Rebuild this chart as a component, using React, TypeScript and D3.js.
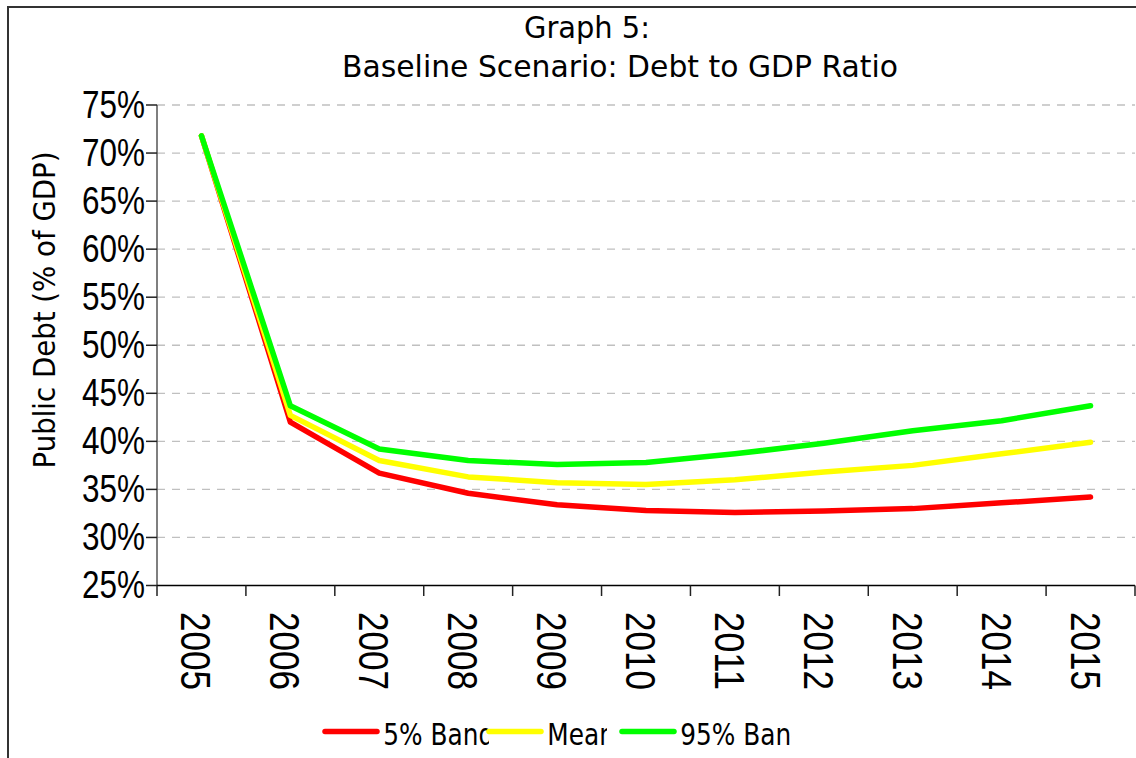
import React from "react";
import * as d3 from "d3";

// Debt-to-GDP projections (percent of GDP) by year
const years = ["2005", "2006", "2007", "2008", "2009", "2010", "2011", "2012", "2013", "2014", "2015"];
const band5 = [71.8, 42.0, 36.7, 34.6, 33.4, 32.8, 32.6, 32.75, 33.0, 33.6, 34.2];
const meanPath = [71.8, 42.7, 38.0, 36.3, 35.7, 35.5, 36.0, 36.8, 37.5, 38.7, 39.9];
const band95 = [71.8, 43.7, 39.2, 38.0, 37.6, 37.8, 38.7, 39.8, 41.1, 42.15, 43.7];

const seriesNames = ["5% Band", "Mean", "95% Band"];
const seriesColors = ["#ff0000", "#ffff00", "#00ff00"];
const yTicks = [25, 30, 35, 40, 45, 50, 55, 60, 65, 70, 75];

const W = 1136;
const H = 758;
const plot = { left: 157, right: 1135, top: 105, bottom: 585.5 };

export default function App() {
  const x = d3.scaleBand<string>().domain(years).range([plot.left, plot.right]).padding(0);
  const y = d3.scaleLinear().domain([25, 75]).range([plot.bottom, plot.top]);
  const cx = (yr: string) => (x(yr) as number) + x.bandwidth() / 2;

  const line = d3
    .line<number>()
    .x((_, i) => cx(years[i]))
    .y((v) => y(v));

  const allSeries = [band5, meanPath, band95];
  const boundaries = years.map((yr) => x(yr) as number).concat([plot.right]);

  // legend layout: entries are squeezed, so their labels get cut off
  const legendY = 731.5;
  const legendLineStart = [325, 489, 622];
  const legendClipEnd = [489, 607, 792];

  const sansFont = "'DejaVu Sans', Verdana, sans-serif";
  const narrowFont = "'Liberation Sans Narrow', 'Arial Narrow', 'Liberation Sans', Arial, sans-serif";

  return (
    <svg
      width={W}
      height={H}
      viewBox={`0 0 ${W} ${H}`}
      style={{ position: "absolute", left: 0, top: 0, display: "block", background: "#fff" }}
    >
      <defs>
        {legendClipEnd.map((end, i) => (
          <clipPath id={`legclip${i}`} key={i}>
            <rect x={legendLineStart[i] + 55} y={700} width={end - (legendLineStart[i] + 55)} height={58} />
          </clipPath>
        ))}
      </defs>

      {/* chart frame */}
      <rect x={8} y={7} width={1160} height={790} fill="#fff" stroke="#333" strokeWidth={2} />

      {/* title */}
      <g fontFamily={sansFont} fill="#000" fontSize={30.5} textAnchor="middle">
        <text x={587} y={38} textLength={126} lengthAdjust="spacingAndGlyphs">
          Graph 5:
        </text>
        <text x={620} y={77} textLength={556} lengthAdjust="spacingAndGlyphs">
          Baseline Scenario: Debt to GDP Ratio
        </text>
      </g>

      {/* horizontal gridlines */}
      {yTicks
        .filter((t) => t > 25)
        .map((t) => (
          <line
            key={`g${t}`}
            x1={plot.left}
            x2={plot.right}
            y1={y(t)}
            y2={y(t)}
            stroke="#c0c0c0"
            strokeWidth={1.3}
            strokeDasharray="8,7"
          />
        ))}

      {/* y axis */}
      <line x1={plot.left} x2={plot.left} y1={plot.top} y2={plot.bottom} stroke="#555" strokeWidth={1.5} />
      {yTicks.map((t) => (
        <g key={`yt${t}`}>
          <line x1={plot.left - 11} x2={plot.left} y1={y(t)} y2={y(t)} stroke="#222" strokeWidth={1.5} />
          <text
            x={145}
            y={y(t) + 12.5}
            textAnchor="end"
            fontFamily={narrowFont}
            fontSize={38}
            textLength={63}
            lengthAdjust="spacingAndGlyphs"
            fill="#000"
          >
            {`${t}%`}
          </text>
        </g>
      ))}

      {/* x axis */}
      <line x1={plot.left} x2={plot.right} y1={plot.bottom} y2={plot.bottom} stroke="#000" strokeWidth={1.5} />
      {boundaries.map((bx, i) => (
        <line key={`xt${i}`} x1={bx} x2={bx} y1={plot.bottom} y2={plot.bottom + 10.5} stroke="#222" strokeWidth={1.5} />
      ))}
      {years.map((yr) => (
        <text
          key={`xl${yr}`}
          transform={`translate(${cx(yr) - 5.5},612) rotate(90)`}
          textAnchor="start"
          dominantBaseline="central"
          fontFamily={narrowFont}
          fontSize={42}
          textLength={78}
          lengthAdjust="spacingAndGlyphs"
          fill="#000"
        >
          {yr}
        </text>
      ))}

      {/* y axis title */}
      <text
        transform={`translate(55,310) rotate(-90)`}
        textAnchor="middle"
        fontFamily={sansFont}
        fontSize={29.7}
        textLength={317}
        lengthAdjust="spacingAndGlyphs"
        fill="#000"
      >
        Public Debt (% of GDP)
      </text>

      {/* series lines */}
      {allSeries.map((s, i) => (
        <path
          key={seriesNames[i]}
          d={line(s) || ""}
          fill="none"
          stroke={seriesColors[i]}
          strokeWidth={5.5}
          strokeLinejoin="round"
          strokeLinecap="round"
        />
      ))}

      {/* legend */}
      {seriesNames.map((name, i) => (
        <g key={`leg${i}`}>
          <line
            x1={legendLineStart[i]}
            x2={legendLineStart[i] + 52}
            y1={legendY}
            y2={legendY}
            stroke={seriesColors[i]}
            strokeWidth={5.5}
            strokeLinecap="round"
          />
          <g clipPath={`url(#legclip${i})`}>
            <text
              transform={`translate(${legendLineStart[i] + 58.3},744.5) scale(0.8,1)`}
              fontFamily={sansFont}
              fontSize={31}
              fill="#000"
            >
              {name}
            </text>
          </g>
        </g>
      ))}
    </svg>
  );
}
